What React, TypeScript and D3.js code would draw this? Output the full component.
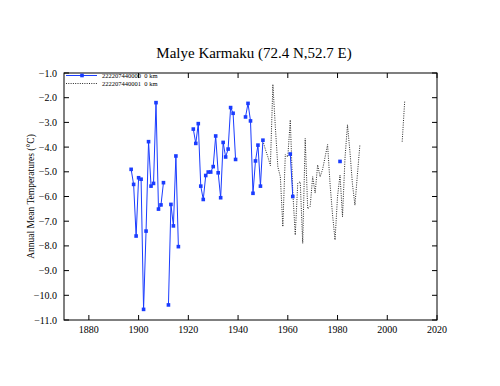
import React, { useEffect, useRef } from "react";
import * as d3 from "d3";

const chartTitle = "Malye Karmaku (72.4 N,52.7 E)";
const yAxisTitle = "Annual Mean Temperatures (°C)";
const seriesNames = ["222207440000  0 km", "222207440001  0 km"];

const xTicks = [1880, 1900, 1920, 1940, 1960, 1980, 2000, 2020];
const yTicks = [-1, -2, -3, -4, -5, -6, -7, -8, -9, -10, -11];

// station 222207440000 (blue, squares) - null marks a gap
const blueYears = [
  1897, 1898, 1899, 1900, 1901, 1902, 1903, 1904, 1905, 1906, 1907, 1908, 1909, 1910, 1911,
  1912, 1913, 1914, 1915, 1916, 1917,
  1922, 1923, 1924, 1925, 1926, 1927, 1928, 1929, 1930, 1931, 1932, 1933, 1934, 1935, 1936,
  1937, 1938, 1939, 1940,
  1943, 1944, 1945, 1946, 1947, 1948, 1949, 1950, 1951,
  1961, 1962, 1963,
  1981,
];
const blueTemps = [
  -4.9, -5.51, -7.6, -5.24, -5.3, -10.57, -7.4, -3.78, -5.58, -5.47, -2.2, -6.51, -6.34, -5.44, null,
  -10.39, -6.32, -7.19, -4.36, -8.03, null,
  -3.27, -3.85, -3.05, -5.58, -6.12, -5.15, -5.01, -5.01, -4.79, -3.55, -5.04, -6.05, -3.81, -4.4, -4.08,
  -2.4, -2.63, -4.5, null,
  -2.78, -2.23, -2.94, -5.87, -4.56, -3.92, -5.58, -3.72, null,
  -4.28, -6.0, null,
  -4.58,
];

// station 222207440001 (black, dotted)
const dotYears = [
  1950, 1951, 1952, 1953, 1954, 1955, 1956, 1957, 1958, 1959, 1960, 1961, 1962, 1963, 1964,
  1965, 1966, 1967, 1968, 1969, 1970, 1971, 1972, 1973, 1974, 1975, 1976, 1977, 1978, 1979,
  1980, 1981, 1982, 1983, 1984, 1985, 1986, 1987, 1988, 1989, 1990,
  2006, 2007,
];
const dotTemps = [
  -3.75, -4.1, -4.4, -4.75, -1.46, -3.2, -4.8, -5.2, -7.22, -4.3, -4.4, -2.9, -5.8, -7.56, -5.47,
  -5.4, -7.9, -3.65, -6.5, -6.4, -5.2, -5.86, -4.72, -5.2, -4.9, -4.4, -3.9, -5.5, -6.75, -7.76,
  -6.0, -5.13, -6.82, -4.45, -3.1, -4.2, -5.5, -6.35, -5.1, -3.9, null,
  -3.78, -2.16,
];

type Pt = { year: number; t: number | null };

const App = () => {
  const svgRef = useRef<SVGSVGElement | null>(null);

  useEffect(() => {
    const width = 500;
    const height = 386;
    const left = 64, right = 437, top = 73, bottom = 320;
    const serif = "'Liberation Serif', 'Times New Roman', serif";
    const blue = "#1a3cff";

    const svg = d3.select(svgRef.current)
      .attr("width", width)
      .attr("height", height)
      .style("background", "#ffffff");
    svg.selectAll("*").remove();

    const x = d3.scaleLinear().domain([1870, 2020]).range([left, right]);
    const y = d3.scaleLinear().domain([-11, -1]).range([bottom, top]);

    const blueData: Pt[] = blueYears.map((yr, i) => ({ year: yr, t: blueTemps[i] }));
    const dotData: Pt[] = dotYears.map((yr, i) => ({ year: yr, t: dotTemps[i] }));

    const line = d3.line<Pt>()
      .defined(d => d.t != null)
      .x(d => x(d.year))
      .y(d => y(d.t as number));

    // frame
    svg.append("rect")
      .attr("x", left).attr("y", top)
      .attr("width", right - left).attr("height", bottom - top)
      .attr("fill", "none").attr("stroke", "#000").attr("stroke-width", 1);

    // ticks, pointing inward on all four sides
    const g = svg.append("g").attr("stroke", "#000").attr("stroke-width", 1);
    xTicks.forEach(v => {
      g.append("line").attr("x1", x(v)).attr("x2", x(v)).attr("y1", bottom).attr("y2", bottom - 5);
      if (v > 1880) g.append("line").attr("x1", x(v)).attr("x2", x(v)).attr("y1", top).attr("y2", top + 5);
    });
    yTicks.forEach(v => {
      g.append("line").attr("x1", left).attr("x2", left + 5).attr("y1", y(v)).attr("y2", y(v));
      g.append("line").attr("x1", right).attr("x2", right - 5).attr("y1", y(v)).attr("y2", y(v));
    });

    svg.append("g").selectAll("text")
      .data(xTicks)
      .join("text")
      .attr("x", d => x(d))
      .attr("y", bottom + 13)
      .attr("text-anchor", "middle")
      .style("font-family", serif)
      .style("font-size", "10px")
      .text(d => String(d));

    svg.append("g").selectAll("text")
      .data(yTicks)
      .join("text")
      .attr("x", left - 7)
      .attr("y", d => y(d))
      .attr("dy", "0.35em")
      .attr("text-anchor", "end")
      .style("font-family", serif)
      .style("font-size", "10px")
      .text(d => d3.format(".1f")(d));

    svg.append("text")
      .attr("transform", `translate(34,${(top + bottom) / 2}) rotate(-90)`)
      .attr("text-anchor", "middle")
      .style("font-family", serif)
      .style("font-size", "9.5px")
      .text(yAxisTitle);

    svg.append("text")
      .attr("x", 254)
      .attr("y", 58)
      .attr("text-anchor", "middle")
      .style("font-family", serif)
      .style("font-size", "15px")
      .text(chartTitle);

    // dotted series
    svg.append("path")
      .datum(dotData)
      .attr("d", line)
      .attr("fill", "none")
      .attr("stroke", "#111")
      .attr("stroke-width", 0.9)
      .attr("stroke-dasharray", "1,1.3");

    // blue series
    svg.append("path")
      .datum(blueData)
      .attr("d", line)
      .attr("fill", "none")
      .attr("stroke", blue)
      .attr("stroke-width", 1);

    svg.append("g").selectAll("rect")
      .data(blueData.filter(d => d.t != null))
      .join("rect")
      .attr("x", d => x(d.year) - 1.8)
      .attr("y", d => y(d.t as number) - 1.8)
      .attr("width", 3.6)
      .attr("height", 3.6)
      .attr("fill", blue);

    // legend
    const leg = svg.append("g");
    leg.append("line")
      .attr("x1", 66).attr("x2", 97).attr("y1", 75.5).attr("y2", 75.5)
      .attr("stroke", blue).attr("stroke-width", 1);
    leg.append("rect")
      .attr("x", 80.2).attr("y", 73.7).attr("width", 3.6).attr("height", 3.6)
      .attr("fill", blue);
    leg.append("line")
      .attr("x1", 66).attr("x2", 97).attr("y1", 83.5).attr("y2", 83.5)
      .attr("stroke", "#111").attr("stroke-width", 0.9).attr("stroke-dasharray", "1,1.3");
    seriesNames.forEach((name, i) => {
      leg.append("text")
        .attr("x", 102)
        .attr("y", 77.8 + i * 8)
        .style("font-family", serif)
        .style("font-size", "6.5px")
        .style("white-space", "pre")
        .text(name);
    });
  }, []);

  return (
    <div style={{ position: "absolute", left: 0, top: 0, width: 500, height: 386, background: "#fff" }}>
      <svg ref={svgRef} style={{ display: "block" }}></svg>
    </div>
  );
};

export default App;
